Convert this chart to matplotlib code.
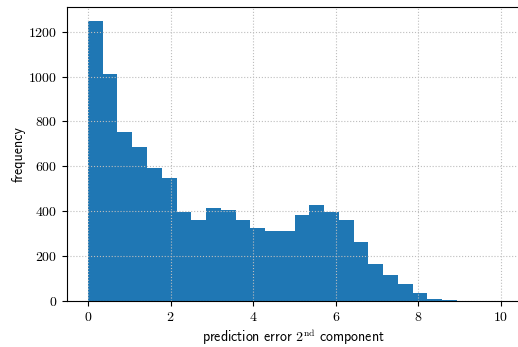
import numpy as np
import matplotlib
matplotlib.use("Agg")
import matplotlib.pyplot as plt

# histogram of the prediction error of the 2nd component (28 equal bins on [0, 10])
bin_edges = np.linspace(0.0, 10.0, 29)
counts = [1247, 1009, 751, 686, 591, 548, 397, 359, 413, 404,
          359, 323, 314, 310, 385, 427, 397, 360, 262, 166,
          118, 74, 35, 10, 3, 1, 1, 1]

plt.rcParams["font.family"] = "serif"
plt.rcParams["font.serif"] = ["cmr10"]
plt.rcParams["mathtext.fontset"] = "cm"
plt.rcParams["axes.formatter.use_mathtext"] = True
plt.rcParams["font.size"] = 10

fig = plt.figure(figsize=(5.18, 3.47), dpi=100)
ax = fig.add_axes([0.1300, 0.1326, 0.917, 0.847])

centers = 0.5 * (bin_edges[:-1] + bin_edges[1:])
ax.hist(centers, bins=bin_edges, weights=counts, color="#1f77b4")

ax.grid(True, linestyle=":", color="#bdbdbd", linewidth=0.8)
ax.set_xticks([0, 2, 4, 6, 8, 10])
ax.set_yticks([0, 200, 400, 600, 800, 1000, 1200])
ax.set_xlim(-0.5, 11.0)

ax.set_xlabel(r"prediction error $2^{\mathrm{nd}}$ component", family="cmss10")
ax.xaxis.set_label_coords(0.475, -0.092)
ax.set_ylabel("frequency", family="cmss10", labelpad=2)

fig.savefig("out.png", dpi=100)
